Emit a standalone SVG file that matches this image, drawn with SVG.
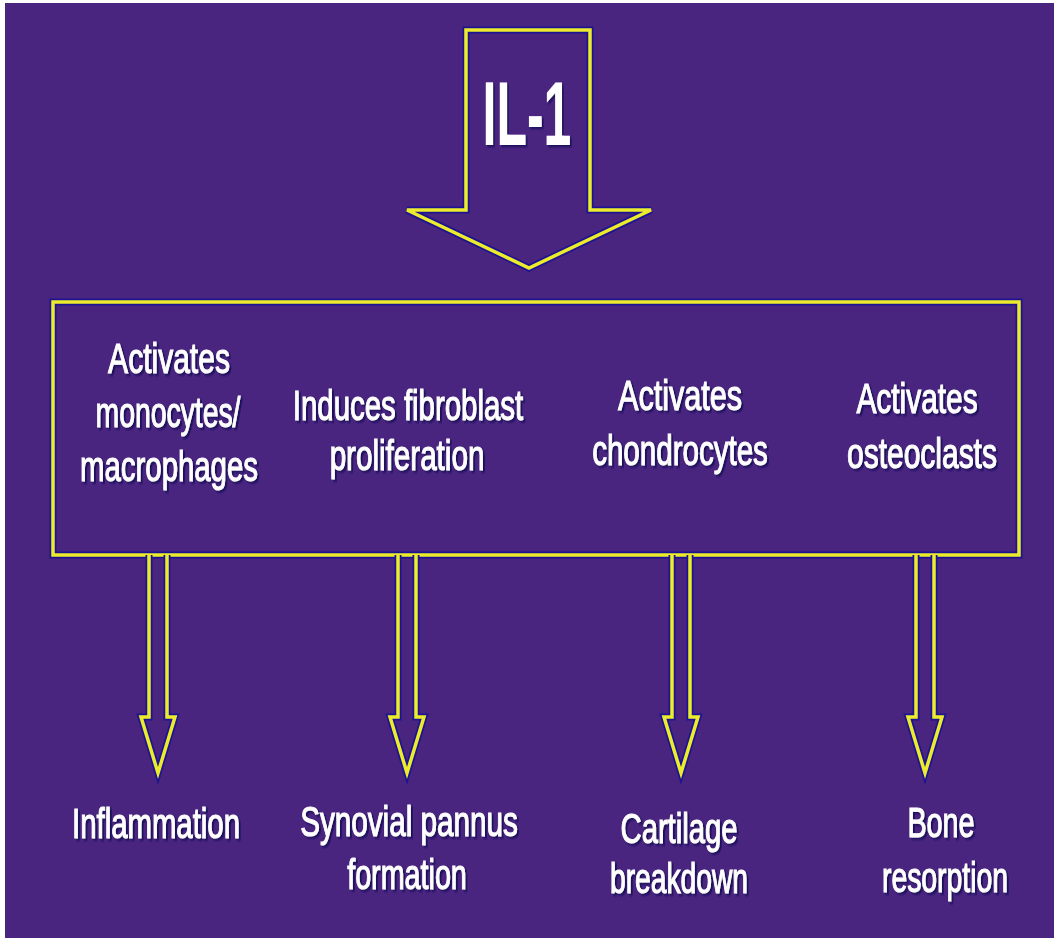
<svg xmlns="http://www.w3.org/2000/svg" xmlns:xlink="http://www.w3.org/1999/xlink" width="1054" height="938" viewBox="0 0 1054 938">
  <style>
    .edge { fill: none; stroke: #1c1490; stroke-width: 7; stroke-linejoin: miter; }
    .line { fill: none; stroke: #ecec2c; stroke-width: 3.5; stroke-linejoin: miter; }
    .lbl { font-family: "Liberation Sans", Arial, sans-serif; font-size: 43px; fill: #ffffff; stroke: #ffffff; stroke-width: 1.1px; text-anchor: middle; filter: url(#shadow); }
    .title { font-family: "Liberation Sans", Arial, sans-serif; font-size: 90px; font-weight: bold; fill: #ffffff; text-anchor: middle; filter: url(#shadow); }
  </style>
  <defs>
    <filter id="shadow" x="-20%" y="-30%" width="140%" height="170%">
      <feDropShadow dx="2.8" dy="2" stdDeviation="1" flood-color="#14105a" flood-opacity="0.9"/>
    </filter>
    <path id="bigArrow" d="M466,30 H590 V210 H651 L529,268 L407,210 H466 Z"/>
    <rect id="boxShape" x="53" y="302" width="966" height="253"/>
    <path id="a1" d="M149,555 V717 H141 L158,773 L175,717 H167 V555"/>
    <path id="a2" d="M398,555 V717 H390 L407,773 L424,717 H416 V555"/>
    <path id="a3" d="M672,555 V717 H664 L681,773 L698,717 H690 V555"/>
    <path id="a4" d="M916,555 V717 H908 L925,773 L942,717 H934 V555"/>
  </defs>

  <!-- page and background -->
  <rect x="0" y="0" width="1054" height="938" fill="#ffffff"/>
  <rect x="5" y="3" width="1049" height="935" fill="#4a2580"/>

  <!-- IL-1 input arrow -->
  <g id="il1">
    <use xlink:href="#bigArrow" class="edge"/>
    <use xlink:href="#bigArrow" class="line"/>
    <text class="title" transform="translate(527,145) scale(0.6,1)" textLength="148" lengthAdjust="spacingAndGlyphs">IL-1</text>
  </g>

  <!-- effects box; labels are set condensed (x scaled by 0.7) -->
  <g id="effects">
    <use xlink:href="#boxShape" class="edge"/>
    <use xlink:href="#boxShape" class="line"/>
    <text class="lbl" transform="translate(169,373) scale(0.7,1)" textLength="174" lengthAdjust="spacingAndGlyphs">Activates</text>
    <text class="lbl" transform="translate(168,427) scale(0.7,1)" textLength="207" lengthAdjust="spacingAndGlyphs">monocytes/</text>
    <text class="lbl" transform="translate(169,481) scale(0.7,1)" textLength="254" lengthAdjust="spacingAndGlyphs">macrophages</text>

    <text class="lbl" transform="translate(408,420) scale(0.7,1)" textLength="329" lengthAdjust="spacingAndGlyphs">Induces fibroblast</text>
    <text class="lbl" transform="translate(407,470) scale(0.7,1)" textLength="221" lengthAdjust="spacingAndGlyphs">proliferation</text>

    <text class="lbl" transform="translate(680,410) scale(0.7,1)" textLength="177" lengthAdjust="spacingAndGlyphs">Activates</text>
    <text class="lbl" transform="translate(680,465) scale(0.7,1)" textLength="251" lengthAdjust="spacingAndGlyphs">chondrocytes</text>

    <text class="lbl" transform="translate(917,413) scale(0.7,1)" textLength="173" lengthAdjust="spacingAndGlyphs">Activates</text>
    <text class="lbl" transform="translate(922,468) scale(0.7,1)" textLength="214" lengthAdjust="spacingAndGlyphs">osteoclasts</text>
  </g>

  <!-- arrows from the box to each outcome -->
  <g id="connectors">
    <use xlink:href="#a1" class="edge"/>
    <use xlink:href="#a2" class="edge"/>
    <use xlink:href="#a3" class="edge"/>
    <use xlink:href="#a4" class="edge"/>
    <use xlink:href="#a1" class="line"/>
    <use xlink:href="#a2" class="line"/>
    <use xlink:href="#a3" class="line"/>
    <use xlink:href="#a4" class="line"/>
  </g>

  <!-- outcomes -->
  <g id="inflammation">
    <text class="lbl" transform="translate(156,838) scale(0.7,1)" textLength="240" lengthAdjust="spacingAndGlyphs">Inflammation</text>
  </g>
  <g id="pannus">
    <text class="lbl" transform="translate(409,836) scale(0.7,1)" textLength="311" lengthAdjust="spacingAndGlyphs">Synovial pannus</text>
    <text class="lbl" transform="translate(407,889) scale(0.7,1)" textLength="171" lengthAdjust="spacingAndGlyphs">formation</text>
  </g>
  <g id="cartilage">
    <text class="lbl" transform="translate(679,843) scale(0.7,1)" textLength="167" lengthAdjust="spacingAndGlyphs">Cartilage</text>
    <text class="lbl" transform="translate(679,893) scale(0.7,1)" textLength="197" lengthAdjust="spacingAndGlyphs">breakdown</text>
  </g>
  <g id="bone">
    <text class="lbl" transform="translate(941,837) scale(0.7,1)" textLength="96" lengthAdjust="spacingAndGlyphs">Bone</text>
    <text class="lbl" transform="translate(945,892) scale(0.7,1)" textLength="180" lengthAdjust="spacingAndGlyphs">resorption</text>
  </g>
</svg>
